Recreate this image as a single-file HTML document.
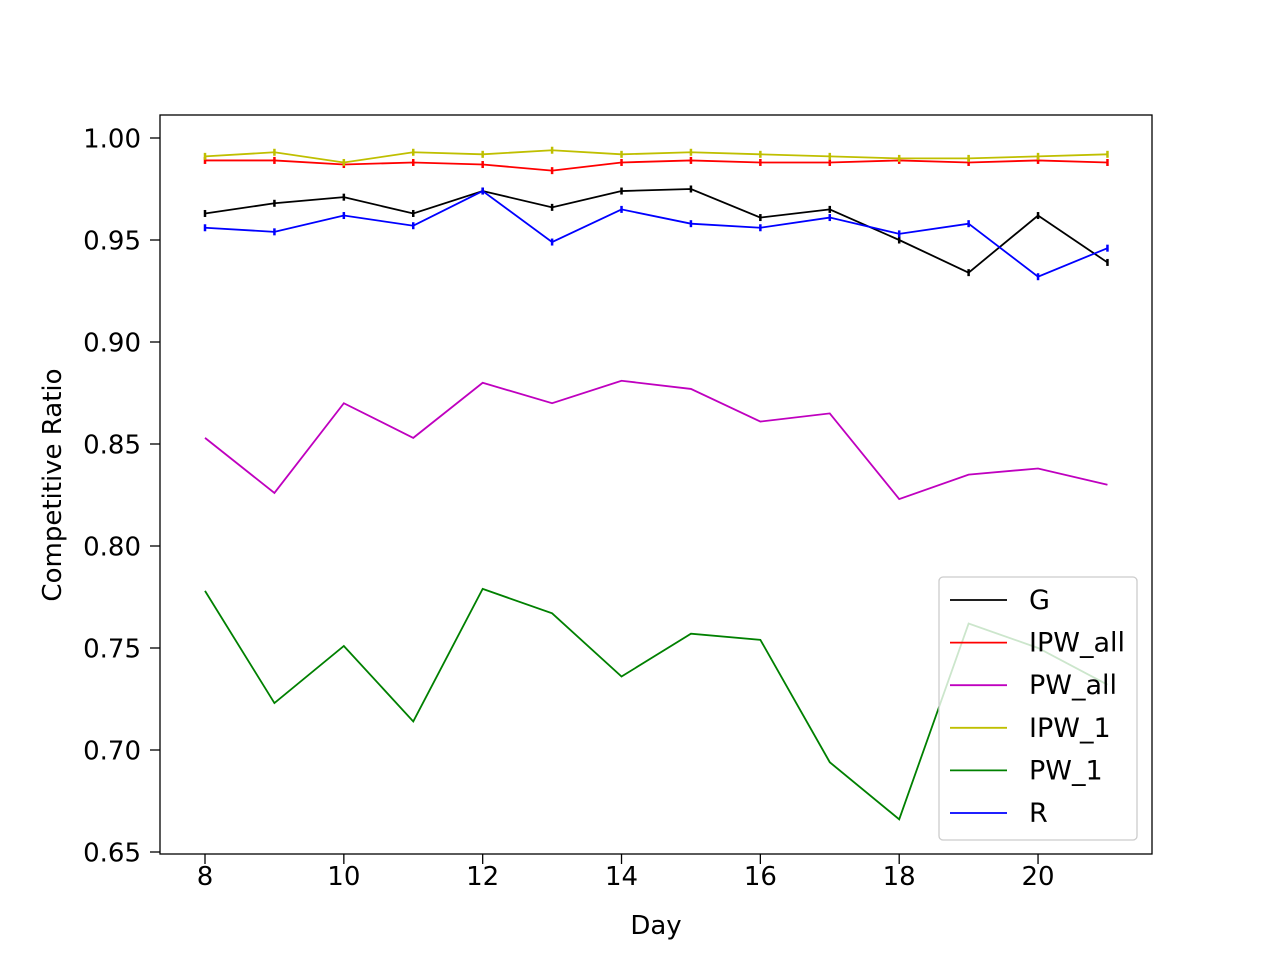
<!DOCTYPE html>
<html><head><meta charset="utf-8"><style>body{margin:0;background:#fff}svg{display:block;font-family:"DejaVu Sans","Liberation Sans",sans-serif}</style></head>
<body>
<svg id="c" width="1280" height="960"></svg>
<script>
const days=[8,9,10,11,12,13,14,15,16,17,18,19,20,21];
const G=[0.963,0.968,0.971,0.963,0.974,0.966,0.974,0.975,0.961,0.965,0.950,0.934,0.962,0.939];
const IPW_all=[0.989,0.989,0.987,0.988,0.987,0.984,0.988,0.989,0.988,0.988,0.989,0.988,0.989,0.988];
const PW_all=[0.853,0.826,0.870,0.853,0.880,0.870,0.881,0.877,0.861,0.865,0.823,0.835,0.838,0.830];
const IPW_1=[0.991,0.993,0.988,0.993,0.992,0.994,0.992,0.993,0.992,0.991,0.990,0.990,0.991,0.992];
const PW_1=[0.778,0.723,0.751,0.714,0.779,0.767,0.736,0.757,0.754,0.694,0.666,0.762,0.750,0.732];
const R=[0.956,0.954,0.962,0.957,0.974,0.949,0.965,0.958,0.956,0.961,0.953,0.958,0.932,0.946];
const xTicks=[8,10,12,14,16,18,20];
const yTicks=[0.65,0.70,0.75,0.80,0.85,0.90,0.95,1.00];
const names=["G","IPW_all","PW_all","IPW_1","PW_1","R"];
const colors=["#000","#f00","#bf00bf","#bfbf00","#008000","#00f"];
const errBars=[true,true,false,true,false,true];
const NS="http://www.w3.org/2000/svg";const svg=document.getElementById('c');
const X=d=>205+(d-8)*69.42, Y=v=>138+(1-v)/0.05*102;
function el(t,a,p){const e=document.createElementNS(NS,t);for(const k in a)e.setAttribute(k,a[k]);(p||svg).appendChild(e);return e;}
const frame=el('rect',{x:160,y:115,width:992,height:739,fill:'none',stroke:'#000','stroke-width':1.3});


xTicks.forEach(t=>{const g=el('g',{});


el('line',{x1:X(t),x2:X(t),y1:854,y2:864,stroke:'#000','stroke-width':1.3},g);
const tx=el('text',{x:X(t),y:885,'text-anchor':'middle','font-size':26},g);tx.textContent=t;});
yTicks.forEach(t=>{const g=el('g',{});


el('line',{x1:150,x2:160,y1:Y(t),y2:Y(t),stroke:'#000','stroke-width':1.3},g);
const tx=el('text',{x:141,y:Y(t)+9.5,'text-anchor':'end','font-size':26},g);tx.textContent=t.toFixed(2);});
const xl=el('text',{x:656,y:934,'text-anchor':'middle','font-size':26});xl.textContent='Day';


const yl=el('text',{x:61,y:485,'text-anchor':'middle','font-size':26,transform:'rotate(-90 61 485)'});yl.textContent='Competitive Ratio';


[G,IPW_all,PW_all,IPW_1,PW_1,R].forEach((s,i)=>{const g=el('g',{});


el('polyline',{points:s.map((v,j)=>X(days[j])+','+Y(v)).join(' '),fill:'none',stroke:colors[i],'stroke-width':1.8},g);
if(errBars[i])s.forEach((v,j)=>{el('line',{x1:X(days[j]),x2:X(days[j]),y1:Y(v)-3.5,y2:Y(v)+3.5,stroke:colors[i],'stroke-width':2.5},g);});});
const lg=el('g',{});


el('rect',{x:939,y:577,width:198,height:263,rx:4,fill:'#fff','fill-opacity':0.8,stroke:'#ccc','stroke-width':1.3},lg);
names.forEach((n,i)=>{const y=600+i*42.6;const e=el('g',{},lg);


el('line',{x1:950,x2:1007,y1:y,y2:y,stroke:colors[i],'stroke-width':1.8},e);
const t=el('text',{x:1029,y:y+9,'font-size':27},e);t.textContent=n;});
</script>
</body></html>
